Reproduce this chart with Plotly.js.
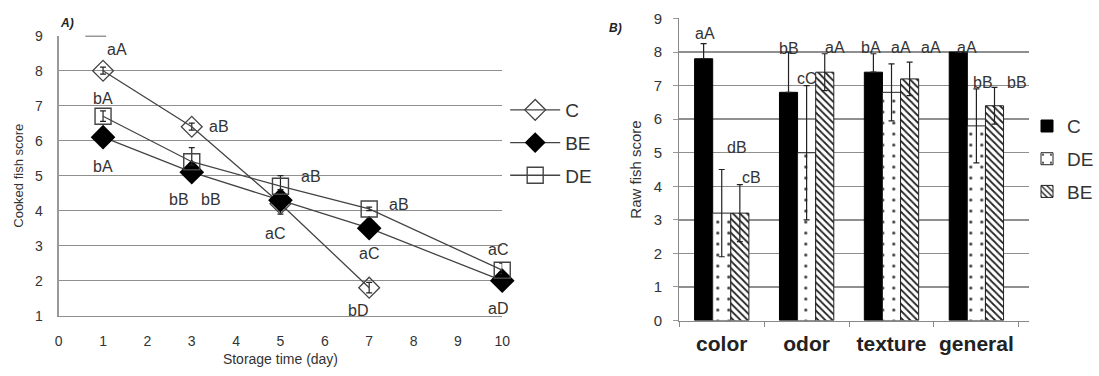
<!DOCTYPE html>
<html>
<head>
<meta charset="utf-8">
<script src="https://cdn.plot.ly/plotly-3.0.1.min.js"></script>
<style>html,body{margin:0;padding:0;background:#fff}#chart{width:1099px;height:376px}</style>
</head>
<body>
<div id="chart"></div>
<script>
// ---------- Panel A data ----------
const daysC = [1, 3, 5, 7];
const cookedC = [8.0, 6.4, 4.2, 1.8];
const cookedCErrPlus = [0.1, 0.1, 0.0, 0.15];
const cookedCErrMinus = [0.1, 0.1, 0.3, 0.15];
const cookedCLetters = ["aA", "aB", "aC", "bD"];

const daysBE = [1, 3, 5, 7, 10];
const cookedBE = [6.1, 5.1, 4.3, 3.5, 2.0];
const cookedBELetters = ["bA", "bB", "", "aC", "aD"];

const daysDE = [1, 3, 5, 7, 10];
const cookedDE = [6.7, 5.4, 4.7, 4.05, 2.3];
const cookedDEErrPlus = [0.15, 0.4, 0.3, 0.05, 0.2];
const cookedDEErrMinus = [0.15, 0.1, 0.1, 0.05, 0.1];
const cookedDELetters = ["bA", "bB", "aB", "aB", "aC"];

// ---------- Panel B data ----------
const attributes = ["color", "odor", "texture", "general"];
const rawC = [7.8, 6.8, 7.4, 8.0];
const rawCErr = [0.45, 1.2, 0.55, 0.0];
const rawCLetters = ["aA", "bB", "bA", "aA"];
const rawCLetterY = [8.54, 8.1, 8.15, 8.15];

const rawDE = [3.2, 5.0, 6.8, 5.8];
const rawDEErr = [1.3, 2.0, 0.85, 1.1];
const rawDELetters = ["dB", "cC", "aA", "bB"];
const rawDELetterY = [5.15, 7.2, 8.15, 7.1];

const rawBE = [3.2, 7.4, 7.2, 6.4];
const rawBEErr = [0.85, 0.55, 0.5, 0.55];
const rawBELetters = ["cB", "aA", "aA", "bB"];
const rawBELetterY = [4.26, 8.15, 8.15, 7.1];

const FONT = "Liberation Sans, Arial, sans-serif";
const TXT = "#333";
const LINE = "#444";
const GRID = "#8f8f8f";

const traces = [
  {x: daysC, y: cookedC, name: "C", type: "scatter", mode: "lines+markers", xaxis: "x", yaxis: "y",
   legend: "legend", legendgroup: "c", cliponaxis: false,
   line: {color: LINE, width: 1.3},
   marker: {symbol: "diamond-open", size: 16, color: LINE, line: {width: 1.3}},
   error_y: {type: "data", array: cookedCErrPlus, arrayminus: cookedCErrMinus, color: "#222", thickness: 1.2, width: 3}},
  {x: daysBE, y: cookedBE, name: "BE", type: "scatter", mode: "lines+markers", xaxis: "x", yaxis: "y",
   legend: "legend", legendgroup: "be", cliponaxis: false,
   line: {color: LINE, width: 1.3},
   marker: {symbol: "diamond", size: 19, color: "#000"}},
  {x: daysDE, y: cookedDE, name: "DE", type: "scatter", mode: "lines+markers", xaxis: "x", yaxis: "y",
   legend: "legend", legendgroup: "de", cliponaxis: false,
   line: {color: LINE, width: 1.3},
   marker: {symbol: "square-open", size: 16, color: LINE, line: {width: 1.4}},
   error_y: {type: "data", array: cookedDEErrPlus, arrayminus: cookedDEErrMinus, color: "#222", thickness: 1.2, width: 3}},

  {x: attributes, y: rawC, name: "C", type: "bar", xaxis: "x2", yaxis: "y2", legend: "legend2", legendgroup: "bc",
   marker: {color: "#000", line: {color: "#000", width: 1}},
   error_y: {type: "data", array: rawCErr, arrayminus: rawCErr.map(() => 0), color: "#222", thickness: 1.2, width: 3}},
  {x: attributes, y: rawDE, name: "DE", type: "bar", xaxis: "x2", yaxis: "y2", legend: "legend2", legendgroup: "bde",
   marker: {color: "#fff", line: {color: "#222", width: 1},
     pattern: {shape: ".", size: 11, solidity: 0.06, fgcolor: "#333", bgcolor: "#fff"}},
   error_y: {type: "data", array: rawDEErr, color: "#222", thickness: 1.2, width: 3}},
  {x: attributes, y: rawBE, name: "BE", type: "bar", xaxis: "x2", yaxis: "y2", legend: "legend2", legendgroup: "bbe",
   marker: {color: "#fff", line: {color: "#222", width: 1},
     pattern: {shape: "\\", size: 5, solidity: 0.35, fgcolor: "#222", bgcolor: "#fff"}},
   error_y: {type: "data", array: rawBEErr, color: "#222", thickness: 1.2, width: 3}}
];

const annotations = [];
function addA(xs, ys, letters, offs) {
  letters.forEach((t, i) => {
    if (!t) return;
    annotations.push({x: xs[i], y: ys[i], xref: "x", yref: "y", text: t, showarrow: false,
      xshift: offs[i][0], yshift: -offs[i][1], font: {family: FONT, size: 16, color: TXT}});
  });
}
addA(daysC, cookedC, cookedCLetters, [[14, -21], [27, 0], [-5, 30], [-11, 23]]);
addA(daysBE, cookedBE, cookedBELetters, [[0, 29], [-13, 27], [0, 0], [0, 25], [-4, 28]]);
addA(daysDE, cookedDE, cookedDELetters, [[0, -18], [19, 38], [31, -10], [30, -4], [-4, -21]]);

function addB(letters, ys, shifts) {
  letters.forEach((t, i) => {
    annotations.push({x: attributes[i], y: ys[i], xref: "x2", yref: "y2", text: t, showarrow: false,
      xshift: shifts[i], font: {family: FONT, size: 16, color: TXT}});
  });
}
addB(rawCLetters, rawCLetterY, [-17, -18, -21, -9]);
addB(rawDELetters, rawDELetterY, [15, 0, 9, 7]);
addB(rawBELetters, rawBELetterY, [30, 28, 39, 41]);

annotations.push({x: 0.053, y: 0.962, xref: "paper", yref: "paper", xanchor: "left", yanchor: "top",
  text: "<b><i>A)</i></b>", showarrow: false, font: {family: FONT, size: 12, color: "#222"}});
annotations.push({x: 0.555, y: 0.95, xref: "paper", yref: "paper", xanchor: "left", yanchor: "top",
  text: "<b><i>B)</i></b>", showarrow: false, font: {family: FONT, size: 12, color: "#222"}});

const layout = {
  width: 1099, height: 376,
  margin: {l: 0, r: 0, t: 0, b: 0},
  paper_bgcolor: "#fff", plot_bgcolor: "#fff",
  font: {family: FONT, color: TXT},
  showlegend: true,
  barmode: "group", bargap: 0.36, bargroupgap: 0,
  xaxis: {domain: [0.0537, 0.4595], anchor: "y", range: [0, 10], dtick: 1, tick0: 0,
    showgrid: false, zeroline: false, showline: true, linecolor: GRID, linewidth: 1.5,
    ticks: "", ticklabelstandoff: 12, tickfont: {size: 14, color: "#333"},
    title: {text: "Storage time (day)", font: {size: 14, color: "#333"}, standoff: 6}},
  yaxis: {domain: [0.1604, 0.905], anchor: "x", range: [1, 9], dtick: 1,
    gridcolor: GRID, gridwidth: 1.5, zeroline: false, showline: true, linecolor: "#999", linewidth: 1.2,
    ticks: "", ticklabelstandoff: 12, tickfont: {size: 14, color: "#333"},
    title: {text: "Cooked fish score", font: {size: 13, color: "#333"}, standoff: 8}},
  xaxis2: {domain: [0.6215, 0.9418], anchor: "y2", type: "category",
    showgrid: false, zeroline: false, showline: true, linecolor: "#888", linewidth: 1.2,
    ticks: "outside", tickson: "boundaries", ticklen: 5, tickcolor: "#888", ticklabelstandoff: 4,
    tickfont: {size: 21, color: "#222", family: FONT, weight: "bold"}},
  yaxis2: {domain: [0.1476, 0.9508], anchor: "x2", range: [0, 9], dtick: 1,
    gridcolor: GRID, gridwidth: 1.5, zeroline: false, showline: true, linecolor: "#888", linewidth: 1.2,
    ticks: "outside", ticklen: 5, tickcolor: "#999", ticklabelstandoff: 8, tickfont: {size: 15, color: "#333"},
    title: {text: "Raw fish score", font: {size: 15, color: "#333"}, standoff: 8}},
  legend: {x: 0.4622, y: 0.758, xanchor: "left", yanchor: "top", bgcolor: "rgba(0,0,0,0)",
    font: {size: 19, color: "#333"}, traceorder: "grouped", tracegroupgap: 5, itemwidth: 50},
  legend2: {x: 0.940, y: 0.715, xanchor: "left", yanchor: "top", bgcolor: "rgba(0,0,0,0)",
    font: {size: 19, color: "#333"}, traceorder: "grouped", tracegroupgap: 5, itemwidth: 30},
  shapes: [
    {type: "line", xref: "x", yref: "y", x0: 0.6, x1: 1.07, y0: 9, y1: 9, line: {color: "#333", width: 1.5}}
  ],
  annotations: annotations
};

Plotly.newPlot("chart", traces, layout, {staticPlot: true, displayModeBar: false});
</script>
</body>
</html>
